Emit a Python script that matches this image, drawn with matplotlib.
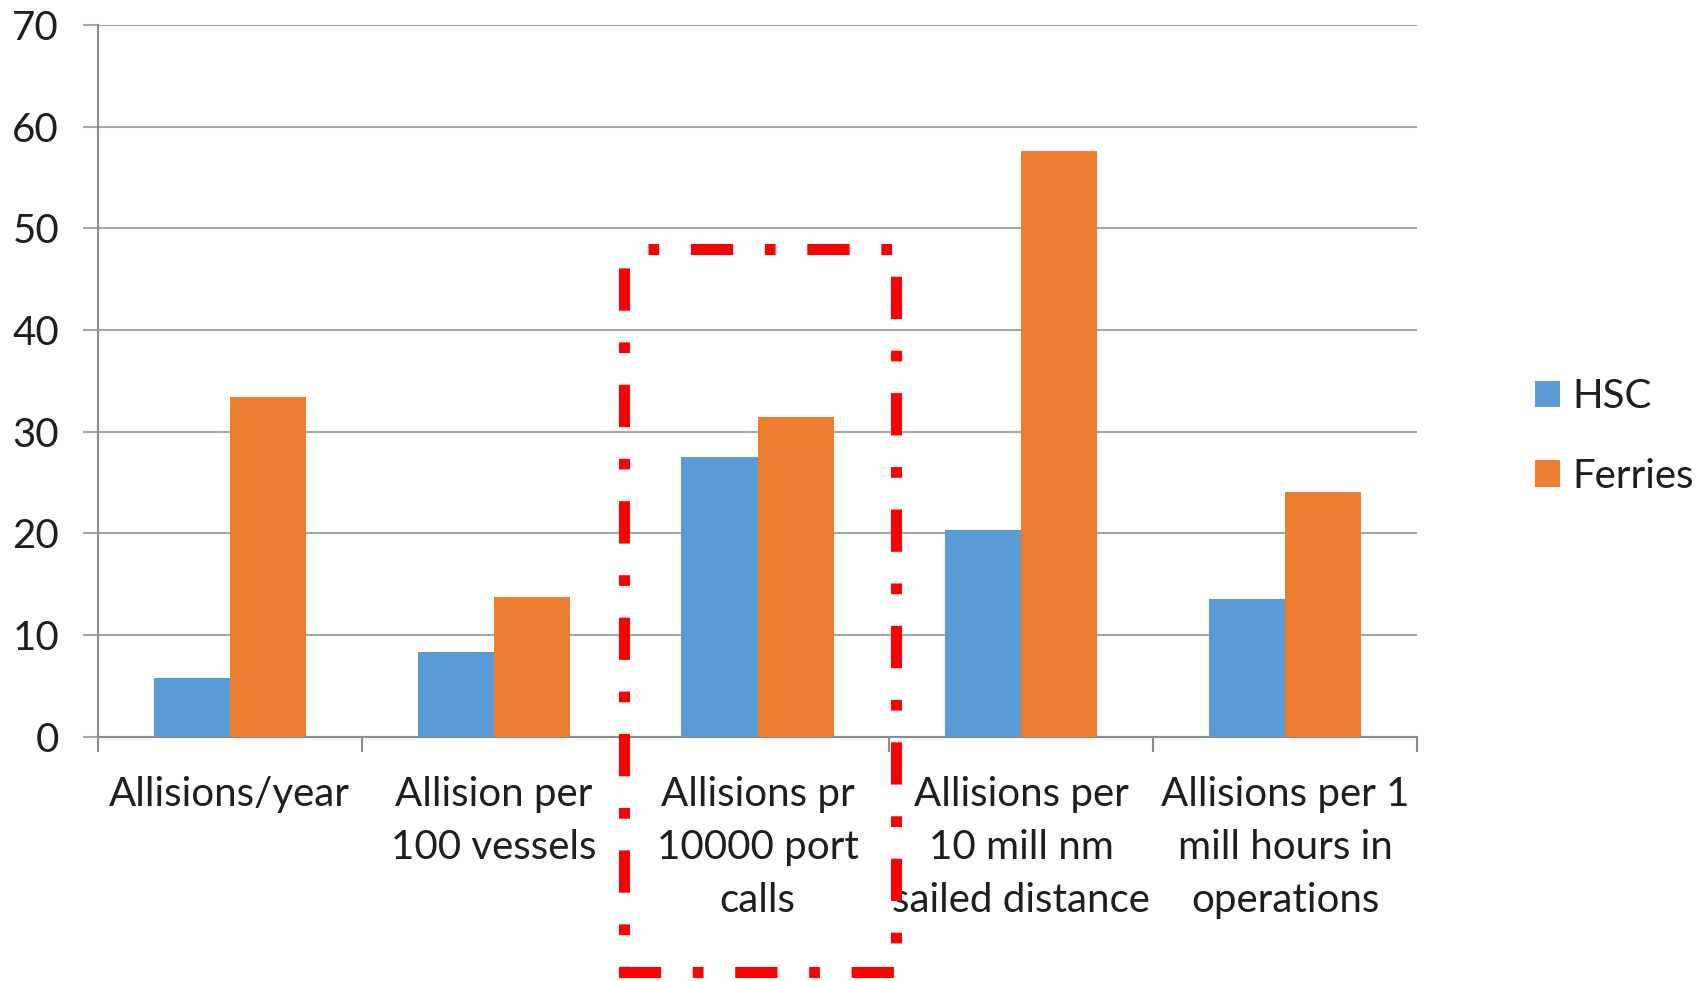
import matplotlib
matplotlib.use("Agg")
import matplotlib.pyplot as plt
from matplotlib.lines import Line2D

categories = [
    "Allisions/year",
    "Allision per\n100 vessels",
    "Allisions pr\n10000 port\ncalls",
    "Allisions per\n10 mill nm\nsailed distance",
    "Allisions per 1\nmill hours in\noperations",
]
hsc = [5.8, 8.3, 27.5, 20.3, 13.5]
ferries = [33.4, 13.7, 31.4, 57.6, 24.1]
series_names = ["HSC", "Ferries"]
y_ticks = [0, 10, 20, 30, 40, 50, 60, 70]

W, H = 1705, 981
plt.rcParams["font.family"] = ["Lato", "DejaVu Sans"]
TEXT = "#1e1e1e"
FS = 29

fig = plt.figure(figsize=(W / 100, H / 100), dpi=100)
ax = fig.add_axes([97.7 / W, 1 - 736.7 / H, (1417.3 - 97.7) / W, (736.7 - 25) / H])

bw = 0.288
x = list(range(len(categories)))
ax.bar([i - bw / 2 for i in x], hsc, width=bw, color="#5B9BD5", label=series_names[0], zorder=3)
ax.bar([i + bw / 2 for i in x], ferries, width=bw, color="#ED7D31", label=series_names[1], zorder=3)

ax.set_xlim(-0.5, len(categories) - 0.5)
ax.set_ylim(0, 70)
ax.set_yticks(y_ticks)
ax.set_yticklabels([str(v) for v in y_ticks], fontsize=FS, color=TEXT)
ax.yaxis.grid(True, color="#a6a6a6", lw=1.5, zorder=0)
ax.tick_params(axis="y", length=10.8, width=1.5, color="#a6a6a6", pad=17)

ax.set_xticks(x)
ax.set_xticklabels(categories, fontsize=FS, color=TEXT, linespacing=1.53)
ax.tick_params(axis="x", which="major", length=0, pad=28.5)
ax.set_xticks([i - 0.5 for i in range(len(categories) + 1)], minor=True)
ax.tick_params(axis="x", which="minor", length=10.8, width=1.5, color="#8c8c8c")

for side in ("top", "right"):
    ax.spines[side].set_visible(False)
ax.spines["left"].set_color("#8c8c8c")
ax.spines["bottom"].set_color("#8c8c8c")
ax.spines["left"].set_linewidth(1.5)
ax.spines["bottom"].set_linewidth(1.5)

fig.legend(
    loc="center left",
    bbox_to_anchor=(1535 / W, 1 - 436.5 / H),
    frameon=False,
    fontsize=FS,
    handlelength=0.62,
    handleheight=0.62,
    handletextpad=0.3,
    labelspacing=1.05,
    borderpad=0,
    borderaxespad=0,
    labelcolor=TEXT,
)

# highlight box around the port-call group
left, right, top, bottom = 623.5, 895.5, 248.5, 972.0
px = [left, right, right, left, left]
py = [top, top, bottom, bottom, top]
lw_px = 11
box = Line2D(
    [p / W for p in px],
    [1 - p / H for p in py],
    transform=fig.transFigure,
    color="#ff0000",
    lw=lw_px * 0.72,
    linestyle=(50 / lw_px, (42.3 / lw_px, 31.7 / lw_px, 10.7 / lw_px, 31.7 / lw_px)),
    dash_capstyle="butt",
    solid_joinstyle="miter",
    dash_joinstyle="miter",
    zorder=10,
)
fig.add_artist(box)

fig.savefig("out.png", dpi=100, facecolor="white")
